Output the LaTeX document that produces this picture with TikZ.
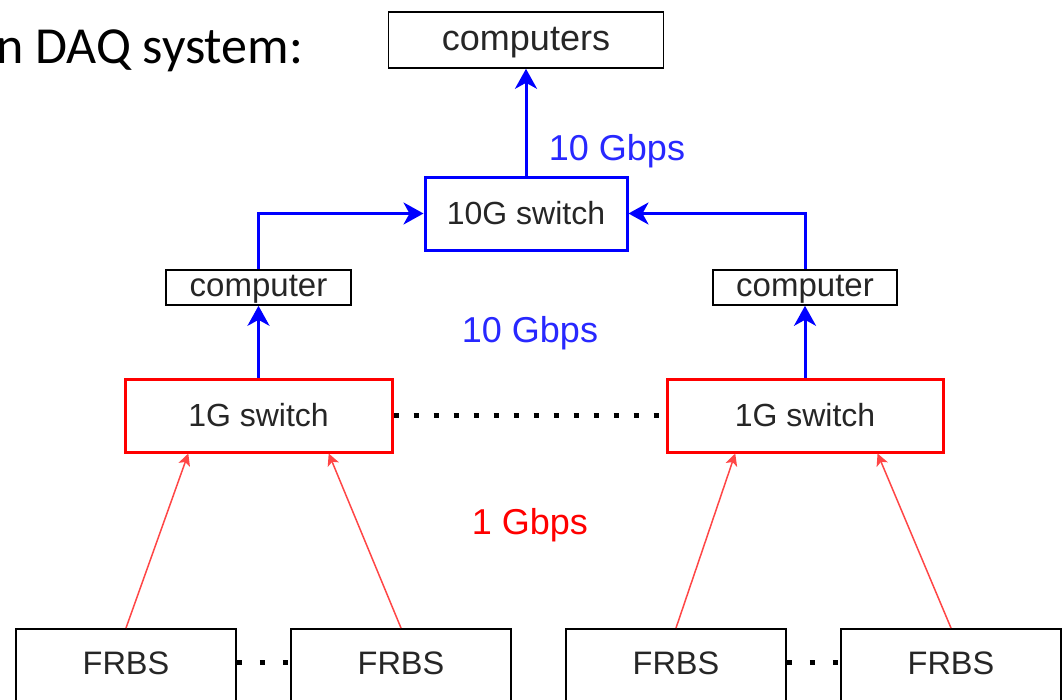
\documentclass[tikz,border=0pt]{standalone}
\usepackage{fontspec}
\setmainfont{Liberation Sans}
\newfontfamily\calibri{Carlito}
\usetikzlibrary{arrows.meta,calc}
\definecolor{txt}{RGB}{38,38,38}
\definecolor{bl}{RGB}{0,0,255}
\definecolor{blt}{RGB}{40,40,255}
\definecolor{rd}{RGB}{255,0,0}
\definecolor{rdl}{RGB}{255,70,70}
\begin{document}
\begin{tikzpicture}[x=1pt,y=-1pt,
  box/.style={draw=black,line width=1.6pt,fill=white,rectangle,inner sep=0pt,text=txt,font=\fontsize{33}{36}\selectfont},
  bluebox/.style={box,draw=bl,line width=3pt,font=\fontsize{32}{36}\selectfont},
  redbox/.style={box,draw=rd,line width=3pt,font=\fontsize{32}{36}\selectfont},
  frbs/.style={draw=black,line width=1.6pt,fill=white,rectangle,text=txt,font=\fontsize{32.5}{36}\selectfont,
     minimum width=220pt,inner sep=3pt,text height=42.5pt,text depth=40pt,anchor=north},
  barrow/.style={draw=bl,line width=3pt,-{Stealth[length=20pt,width=22pt,inset=6pt]}},
  rarrow/.style={draw=rdl,line width=1.5pt,-{Stealth[length=12pt,width=12pt,inset=3pt]}},
  dots/.style={draw=black,line width=5pt,dash pattern=on 5pt off 15pt},
  lbl/.style={font=\fontsize{36}{40}\selectfont,inner sep=0pt}]
\useasboundingbox (0,0) rectangle (1063,699);
\clip (0,0) rectangle (1063,699);
\fill[white] (0,0) rectangle (1063,699);

\node[anchor=base west,inner sep=0pt,font=\calibri\fontsize{52}{56}\selectfont] (title) at (-4,63) {n DAQ system:};

\node[box,minimum width=275pt,minimum height=56pt,font=\fontsize{36}{40}\selectfont,text depth=3pt] (comps) at (526,40) {computers};
\node[bluebox,minimum width=202pt,minimum height=73pt] (sw10) at (526,213.5) {10G switch};
\node[box,minimum width=185pt,minimum height=35pt,text depth=3pt] (compL) at (258.5,287.5) {computer};
\node[box,minimum width=184pt,minimum height=35pt,text depth=3pt] (compR) at (805,287.5) {computer};
\node[redbox,minimum width=267pt,minimum height=73pt] (swL) at (258.5,415.5) {1G switch};
\node[redbox,minimum width=276pt,minimum height=73pt] (swR) at (805,415.5) {1G switch};

\node[frbs] (f1) at (126,628) {FRBS};
\node[frbs] (f2) at (401,628) {FRBS};
\node[frbs] (f3) at (676,628) {FRBS};
\node[frbs] (f4) at (951,628) {FRBS};

% blue links
\draw[barrow] (sw10.north) -- (comps.south);
\draw[barrow] (swL.north) -- (compL.south);
\draw[barrow] (swR.north) -- (compR.south);
\draw[barrow] (compL.north) |- (sw10.west);
\draw[barrow] (compR.north) |- (sw10.east);

% red links
\draw[rarrow] (f1.north) -- ($(swL.south west)!0.24!(swL.south east)$);
\draw[rarrow] (f2.north) -- ($(swL.south west)!0.76!(swL.south east)$);
\draw[rarrow] (f3.north) -- ($(swR.south west)!0.25!(swR.south east)$);
\draw[rarrow] (f4.north) -- ($(swR.south west)!0.76!(swR.south east)$);

% dotted
\draw[dots] (swL.east) -- (swR.west);
\draw[dots,dash pattern=on 5pt off 18pt] ($(f1.north east)+(0,34)$) -- ($(f2.north west)+(0,34)$);
\draw[dots,dash pattern=on 5pt off 18pt] ($(f3.north east)+(0,34)$) -- ($(f4.north west)+(0,34)$);

% labels
\node[lbl,text=blt] (l1) at (617,151) {10 Gbps};
\node[lbl,text=blt] (l2) at (530,333) {10 Gbps};
\node[lbl,text=rd] (l3) at (530,525) {1 Gbps};
\end{tikzpicture}
\end{document}
